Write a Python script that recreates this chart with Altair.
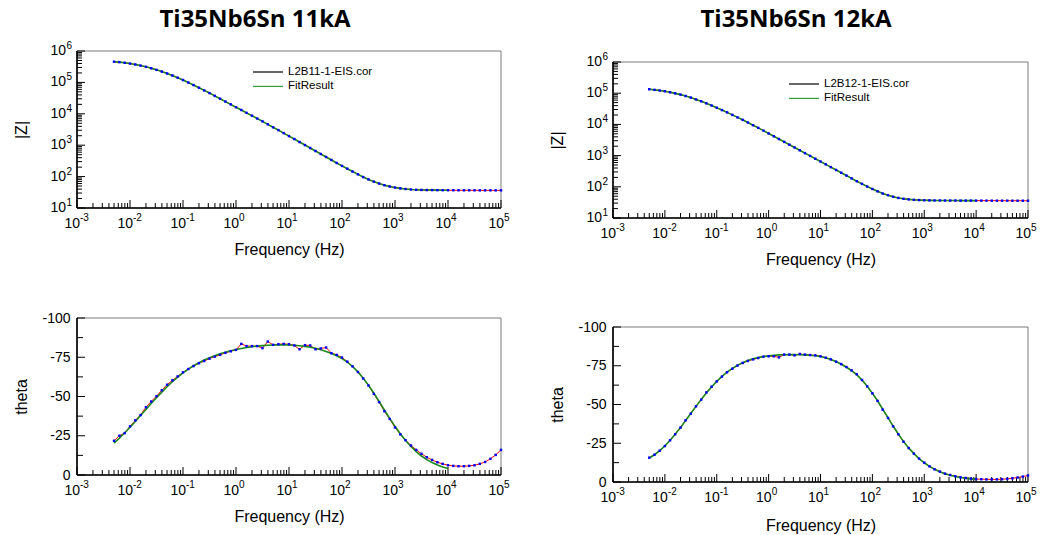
import altair as alt
import pandas as pd

# Measurement frequencies (Hz), 10 points per decade, 5 mHz .. 100 kHz
FREQ = [0.005, 0.00631, 0.00794,
        0.01, 0.0126, 0.0158, 0.02, 0.0251, 0.0316, 0.0398, 0.0501, 0.0631, 0.0794,
        0.1, 0.126, 0.158, 0.2, 0.251, 0.316, 0.398, 0.501, 0.631, 0.794,
        1, 1.26, 1.58, 2, 2.51, 3.16, 3.98, 5.01, 6.31, 7.94,
        10, 12.6, 15.8, 20, 25.1, 31.6, 39.8, 50.1, 63.1, 79.4,
        100, 126, 158, 200, 251, 316, 398, 501, 631, 794,
        1000, 1260, 1580, 2000, 2510, 3160, 3980, 5010, 6310, 7940,
        10000, 12600, 15800, 20000, 25100, 31600, 39800, 50100, 63100, 79400,
        100000]
N_FIT = 64  # the fitted curves stop at 10 kHz

# |Z| (ohm), sample 11kA
Z_11 = [457000, 442000, 422000, 398000, 372000, 343000, 313000, 282000, 251000, 221000,
        193000, 166000, 141000, 119000, 98900, 82200, 67600, 55600, 45700, 37200,
        30200, 24500, 20000, 16200, 13200, 10700, 8710, 7080, 5750, 4620,
        3720, 3020, 2430, 1950, 1570, 1260, 1010, 813, 653, 525,
        422, 339, 272, 219, 178, 145, 118, 96.6, 81.3, 69.2,
        60.3, 53.1, 48.4, 44.7, 42.2, 40.3, 38.9, 38.0, 37.6, 37.3,
        37.2, 37.0, 36.9, 36.8, 36.7, 36.7, 36.6, 36.6, 36.6, 36.5,
        36.5, 36.5, 36.4, 36.4]

# |Z| (ohm), sample 12kA
Z_12 = [134000, 128000, 122000, 115000, 107000, 98900, 90200, 81300, 72400, 63100,
        55000, 47300, 40300, 34300, 28800, 24300, 20200, 16800, 14000, 11500,
        9440, 7760, 6310, 5130, 4170, 3390, 2750, 2240, 1820, 1480,
        1200, 977, 794, 646, 525, 427, 347, 282, 229, 186,
        151, 124, 102, 85.1, 71.6, 61.0, 54.0, 48.0, 44.0, 41.3,
        39.5, 38.3, 37.5, 37.0, 36.7, 36.5, 36.4, 36.3, 36.2, 36.2,
        36.1, 36.1, 36.1, 36.0, 36.0, 36.0, 35.9, 35.9, 35.9, 35.9,
        35.8, 35.8, 35.8, 35.8]

# phase angle (deg), measured
THETA_11 = [-21.8, -25.0, -26.7, -31.0, -34.8, -38.2, -43.2, -46.8, -50.2, -54.0,
            -57.5, -60.3, -62.8, -65.4, -67.5, -69.4, -71.2, -72.6, -74.1, -75.4,
            -76.5, -77.8, -78.8, -79.7, -83.5, -82.1, -82.1, -82.1, -80.8, -85.0,
            -82.9, -83.3, -83.5, -83.3, -82.5, -80.1, -82.7, -82.5, -80.1, -80.6,
            -81.2, -77.6, -76.5, -74.8, -72.2, -69.2, -65.6, -61.5, -57.0, -51.7,
            -46.4, -40.6, -35.7, -30.3, -25.9, -22.2, -18.8, -16.0, -13.5, -11.3,
            -9.6, -8.1, -7.1, -6.2, -5.8, -5.6, -5.6, -5.8, -6.2, -7.1,
            -8.3, -10.3, -12.8, -16.0]

THETA_12 = [-15.7, -17.6, -20.2, -23.2, -26.9, -30.8, -35.1, -39.8, -44.1, -48.8,
            -53.1, -57.8, -61.5, -64.9, -68.0, -70.8, -73.1, -75.1, -76.8, -78.1,
            -79.1, -80.0, -80.9, -81.1, -81.1, -80.4, -82.2, -82.2, -81.7, -82.6,
            -82.2, -81.9, -81.7, -81.1, -80.2, -79.1, -77.6, -76.1, -74.2, -72.0,
            -69.5, -65.8, -61.7, -57.2, -52.3, -46.7, -41.3, -35.9, -30.8, -26.0,
            -21.9, -18.3, -15.1, -12.5, -10.1, -8.2, -6.7, -5.4, -4.5, -3.7,
            -3.0, -2.6, -2.2, -1.9, -1.8, -1.7, -1.7, -1.7, -1.8, -2.0,
            -2.4, -2.9, -3.5, -4.2]

# phase angle (deg), equivalent-circuit fit
FIT_THETA_11 = [-20.3, -23.5, -26.9, -30.4, -34.1, -37.9, -41.7, -45.5, -49.2, -52.8,
                -56.2, -59.4, -62.3, -65.0, -67.4, -69.6, -71.5, -73.2, -74.7, -76.0,
                -77.2, -78.2, -79.1, -79.9, -80.6, -81.2, -81.7, -82.1, -82.4, -82.6,
                -82.8, -82.9, -82.9, -82.8, -82.6, -82.3, -81.9, -81.4, -80.7, -79.8,
                -78.7, -77.4, -75.9, -74.1, -71.9, -69.1, -65.7, -61.7, -57.2, -52.2,
                -46.9, -41.4, -36.1, -31.0, -26.3, -22.0, -18.2, -14.9, -12.1, -9.8,
                -7.9, -6.4, -5.1, -4.1]

FIT_THETA_12 = [-15.5, -17.6, -20.2, -23.2, -26.9, -30.8, -35.1, -39.7, -44.2, -48.8,
                -53.2, -57.4, -61.3, -64.9, -68.1, -70.9, -73.3, -75.3, -77.0, -78.4,
                -79.5, -80.3, -80.9, -81.4, -81.7, -82.0, -82.1, -82.2, -82.2, -82.1,
                -82.0, -81.8, -81.5, -81.0, -80.2, -79.1, -77.7, -76.0, -74.0, -71.8,
                -69.1, -65.8, -61.8, -57.3, -52.4, -47.0, -41.5, -36.1, -31.0, -26.2,
                -22.0, -18.3, -15.1, -12.4, -10.1, -8.2, -6.6, -5.3, -4.3, -3.5,
                -2.9, -2.4, -2.0, -1.7]

# the fitted |Z| lies on the measured curve over the fitted range
FIT_Z_11 = Z_11[:N_FIT]
FIT_Z_12 = Z_12[:N_FIT]

TITLES = ["Ti35Nb6Sn 11kA", "Ti35Nb6Sn 12kA"]
SERIES_NAMES = ["L2B11-1-EIS.cor", "L2B12-1-EIS.cor"]
FIT_NAME = "FitResult"

# axis ticks; decade labels are written as "10" plus a raised exponent
X_MAJOR = [1e-3, 1e-2, 1e-1, 1e0, 1e1, 1e2, 1e3, 1e4, 1e5]
X_EXP = ["-3", "-2", "-1", "0", "1", "2", "3", "4", "5"]
X_MINOR = [m * 10.0 ** e for e in range(-3, 5) for m in range(2, 10)]
Z_MAJOR = [1e1, 1e2, 1e3, 1e4, 1e5, 1e6]
Z_EXP = ["1", "2", "3", "4", "5", "6"]
Z_MINOR = [m * 10.0 ** e for e in range(1, 6) for m in range(2, 10)]
T_MAJOR = [-100, -75, -50, -25, 0]
T_MINOR = [-87.5, -62.5, -37.5, -12.5]

FONT = "Liberation Sans"
RED, BLUE, GREEN = "#ff0000", "#0000ff", "#1a8a1a"
ONE = pd.DataFrame({"k": [0]})


def panel(kind, data_vals, fit_vals, W, H, top, xtitle_y=41):
    xs = alt.Scale(type="log", domain=[1e-3, 1e5], nice=False)
    if kind == "z":
        ys = alt.Scale(type="log", domain=[10, 1e6], nice=False, range=[H, top])
        y_axis = alt.Axis(values=Z_MAJOR, labels=False, title="|Z|")
        y_major, y_minor = Z_MAJOR, Z_MINOR
    else:
        ys = alt.Scale(type="linear", domain=[0, -100], nice=False, zero=False, range=[H, top])
        y_axis = alt.Axis(values=T_MAJOR, labelExpr="'' + datum.value", title="theta",
                          labelPadding=7)
        y_major, y_minor = T_MAJOR, T_MINOR

    x_axis = alt.Axis(values=X_MAJOR, labels=False, title="Frequency (Hz)",
                      titleY=xtitle_y, titleBaseline="middle")

    meas = pd.DataFrame({"f": FREQ, "v": data_vals})
    fit = pd.DataFrame({"f": FREQ[:N_FIT], "v": fit_vals})

    def xenc():
        return alt.X("f:Q", scale=xs, axis=x_axis)

    def yenc():
        return alt.Y("v:Q", scale=ys, axis=y_axis)

    frame = alt.Chart(ONE).mark_rect(fillOpacity=0, stroke="#7a7a7a", strokeWidth=1).encode(
        x=alt.value(0), x2=alt.value(W), y=alt.value(top), y2=alt.value(H))
    axis_b = alt.Chart(ONE).mark_rule(color="black", strokeWidth=1.6).encode(
        x=alt.value(0), x2=alt.value(W), y=alt.value(H))
    axis_l = alt.Chart(ONE).mark_rule(color="black", strokeWidth=1.6).encode(
        x=alt.value(0), y=alt.value(top), y2=alt.value(H))

    xt_major = alt.Chart(pd.DataFrame({"f": X_MAJOR})).mark_rule(color="black").encode(
        x=xenc(), y=alt.value(H), y2=alt.value(H - 8))
    xt_minor = alt.Chart(pd.DataFrame({"f": X_MINOR})).mark_rule(color="black").encode(
        x=xenc(), y=alt.value(H), y2=alt.value(H - 5))
    yt_major = alt.Chart(pd.DataFrame({"v": y_major})).mark_rule(color="black").encode(
        y=yenc(), x=alt.value(0), x2=alt.value(8))
    yt_minor = alt.Chart(pd.DataFrame({"v": y_minor})).mark_rule(color="black").encode(
        y=yenc(), x=alt.value(0), x2=alt.value(6 if kind == "theta" else 5))

    # decade labels of the frequency axis
    xlab = pd.DataFrame({"f": X_MAJOR, "e": X_EXP, "b": ["10"] * len(X_MAJOR)})
    x_base = alt.Chart(xlab).mark_text(
        font=FONT, fontSize=14, align="right", baseline="middle", dx=3, color="black").encode(
        x=xenc(), y=alt.value(H + 16), text="b:N")
    x_exp = alt.Chart(xlab).mark_text(
        font=FONT, fontSize=10, align="left", baseline="middle", dx=3, color="black").encode(
        x=xenc(), y=alt.value(H + 10), text="e:N")
    layers = [frame, xt_minor, xt_major, yt_minor, yt_major, axis_b, axis_l, x_base, x_exp]

    if kind == "z":
        ylab = pd.DataFrame({"v": Z_MAJOR, "e": Z_EXP, "b": ["10"] * len(Z_MAJOR)})
        y_base = alt.Chart(ylab).mark_text(
            font=FONT, fontSize=14, align="right", baseline="middle", color="black").encode(
            y=yenc(), x=alt.value(-11), text="b:N")
        y_exp = alt.Chart(ylab).mark_text(
            font=FONT, fontSize=10, align="right", baseline="middle", dy=-5,
            color="black").encode(y=yenc(), x=alt.value(-5), text="e:N")
        layers += [y_base, y_exp]

    red = alt.Chart(meas).mark_line(color=RED, strokeWidth=1).encode(x=xenc(), y=yenc())
    green = alt.Chart(fit).mark_line(color=GREEN, strokeWidth=1.6).encode(x=xenc(), y=yenc())
    dots = alt.Chart(meas).mark_square(color=BLUE, size=6, opacity=1).encode(x=xenc(), y=yenc())

    return layers + [red, green, dots]


def title_layer(text, tx, ty):
    return alt.Chart(ONE).mark_text(font="Open Sans", fontSize=24, fontWeight="bold",
                                    align="center", baseline="middle", color="black").encode(
        x=alt.value(tx), y=alt.value(ty), text=alt.value(text))


def legend_layers(name, lx, ly):
    out = []
    for i, (label, col) in enumerate([(name, "black"), (FIT_NAME, "#33a033")]):
        y = ly + 14.4 * i
        out.append(alt.Chart(ONE).mark_rule(color=col, strokeWidth=1.2).encode(
            x=alt.value(lx), x2=alt.value(lx + 30), y=alt.value(y)))
        out.append(alt.Chart(ONE).mark_text(font=FONT, fontSize=11.5, align="left",
                                            baseline="middle", color="black").encode(
            x=alt.value(lx + 35), y=alt.value(y), text=alt.value(label)))
    return out


# top-left: |Z| 11kA
tl = alt.layer(*(panel("z", Z_11, FIT_Z_11, 424, 157, 0)
                 + legend_layers(SERIES_NAMES[0], 176, 21)
                 + [title_layer(TITLES[0], 178, -31)])).properties(width=424, height=157)

# top-right: |Z| 12kA (plot frame sits 11 px lower than the left one)
tr = alt.layer(*(panel("z", Z_12, FIT_Z_12, 415, 167, 11)
                 + legend_layers(SERIES_NAMES[1], 176, 33)
                 + [title_layer(TITLES[1], 183, -31)])).properties(width=415, height=167)

# bottom-left: phase 11kA
bl = alt.layer(*panel("theta", THETA_11, FIT_THETA_11, 424, 157, 0)).properties(
    width=424, height=157)

# bottom-right: phase 12kA
br = alt.layer(*panel("theta", THETA_12, FIT_THETA_12, 415, 164, 9, xtitle_y=43)).properties(
    width=415, height=164)

chart = alt.concat(tl, tr, bl, br, columns=2, spacing={"row": 100, "column": 112},
                   bounds="flush").properties(
    padding={"left": 13, "top": 8, "right": 4, "bottom": 4},
    background="white",
).configure_view(stroke=None).configure_axis(
    ticks=False, domain=False, grid=False,
    labelFont=FONT, labelFontSize=14, labelColor="black",
    labelFlush=False, labelOverlap=False,
    titleFont=FONT, titleFontSize=16, titleFontWeight="normal", titleColor="black",
).configure_axisLeft(
    titleX=-56, titleBaseline="middle", titleAngle=-90, titleAlign="center")

chart.save("out.html", embed_options={"renderer": "svg", "actions": False})
